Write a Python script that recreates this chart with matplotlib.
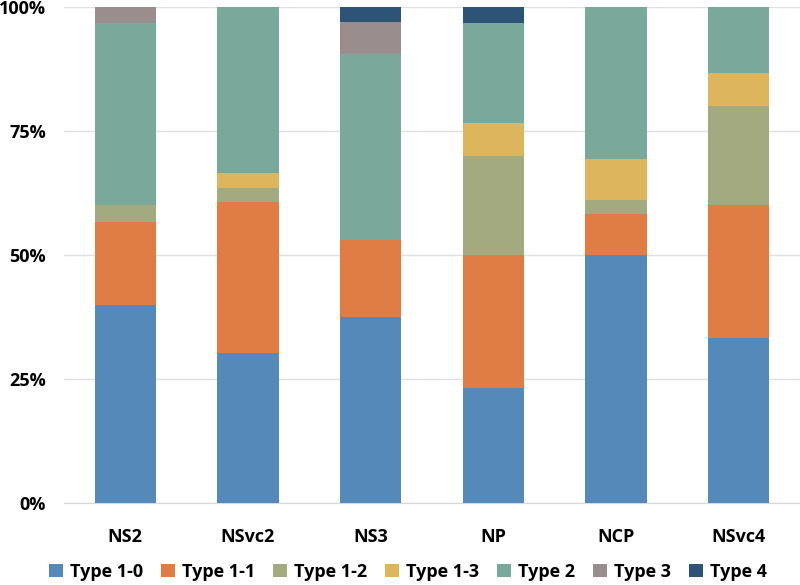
import numpy as np
import matplotlib.pyplot as plt
from matplotlib.ticker import FuncFormatter

plt.rcParams['font.family'] = ['Open Sans', 'DejaVu Sans']
plt.rcParams['font.weight'] = 'bold'

categories = ['NS2', 'NSvc2', 'NS3', 'NP', 'NCP', 'NSvc4']
types = ['Type 1-0', 'Type 1-1', 'Type 1-2', 'Type 1-3', 'Type 2', 'Type 3', 'Type 4']
colors = ['#5589b9', '#e07d44', '#a3aa7f', '#ddb55d', '#7aa89b', '#9a8d8d', '#2d5476']

# percentages per category, in type order
ns2 = [40.0, 16.7, 3.3, 0.0, 36.7, 3.3, 0.0]
nsvc2 = [30.3, 30.3, 3.0, 3.0, 33.4, 0.0, 0.0]
ns3 = [37.5, 15.6, 0.0, 0.0, 37.5, 6.3, 3.1]
np_ = [23.3, 26.7, 20.0, 6.7, 20.0, 0.0, 3.3]
ncp = [50.0, 8.3, 2.8, 8.3, 30.6, 0.0, 0.0]
nsvc4 = [33.3, 26.7, 20.0, 6.7, 13.3, 0.0, 0.0]

data = np.array([ns2, nsvc2, ns3, np_, ncp, nsvc4]).T

fig = plt.figure(figsize=(8, 5.85), dpi=100)
ax = fig.add_axes([0.08, 0.14, 0.92, 0.848])

x = np.arange(len(categories))
bottom = np.zeros(len(categories))
for i in range(len(types)):
    ax.bar(x, data[i], 0.5, bottom=bottom, color=colors[i], label=types[i], zorder=3)
    bottom += data[i]

ax.set_xlim(-0.5, len(categories) - 0.5)
ax.set_ylim(0, 100)
ax.set_yticks([0, 25, 50, 75, 100])
ax.yaxis.set_major_formatter(FuncFormatter(lambda v, p: '%d%%' % v))
ax.set_xticks(x)
ax.set_xticklabels(categories)
ax.tick_params(axis='both', length=0, labelsize=13)
ax.tick_params(axis='x', pad=18)
ax.tick_params(axis='y', pad=13)
ax.grid(axis='y', color='#e0e0e0', linewidth=1, zorder=0)
for s in ['top', 'left', 'right']:
    ax.spines[s].set_visible(False)
ax.spines['bottom'].set_color('#d9d9d9')

fig.legend(loc='center', bbox_to_anchor=(0.51, 0.022), ncol=7, frameon=False,
           fontsize=13, handlelength=0.75, handleheight=0.75, handletextpad=0.4,
           columnspacing=1.0, borderpad=0)

plt.savefig('out.png')
